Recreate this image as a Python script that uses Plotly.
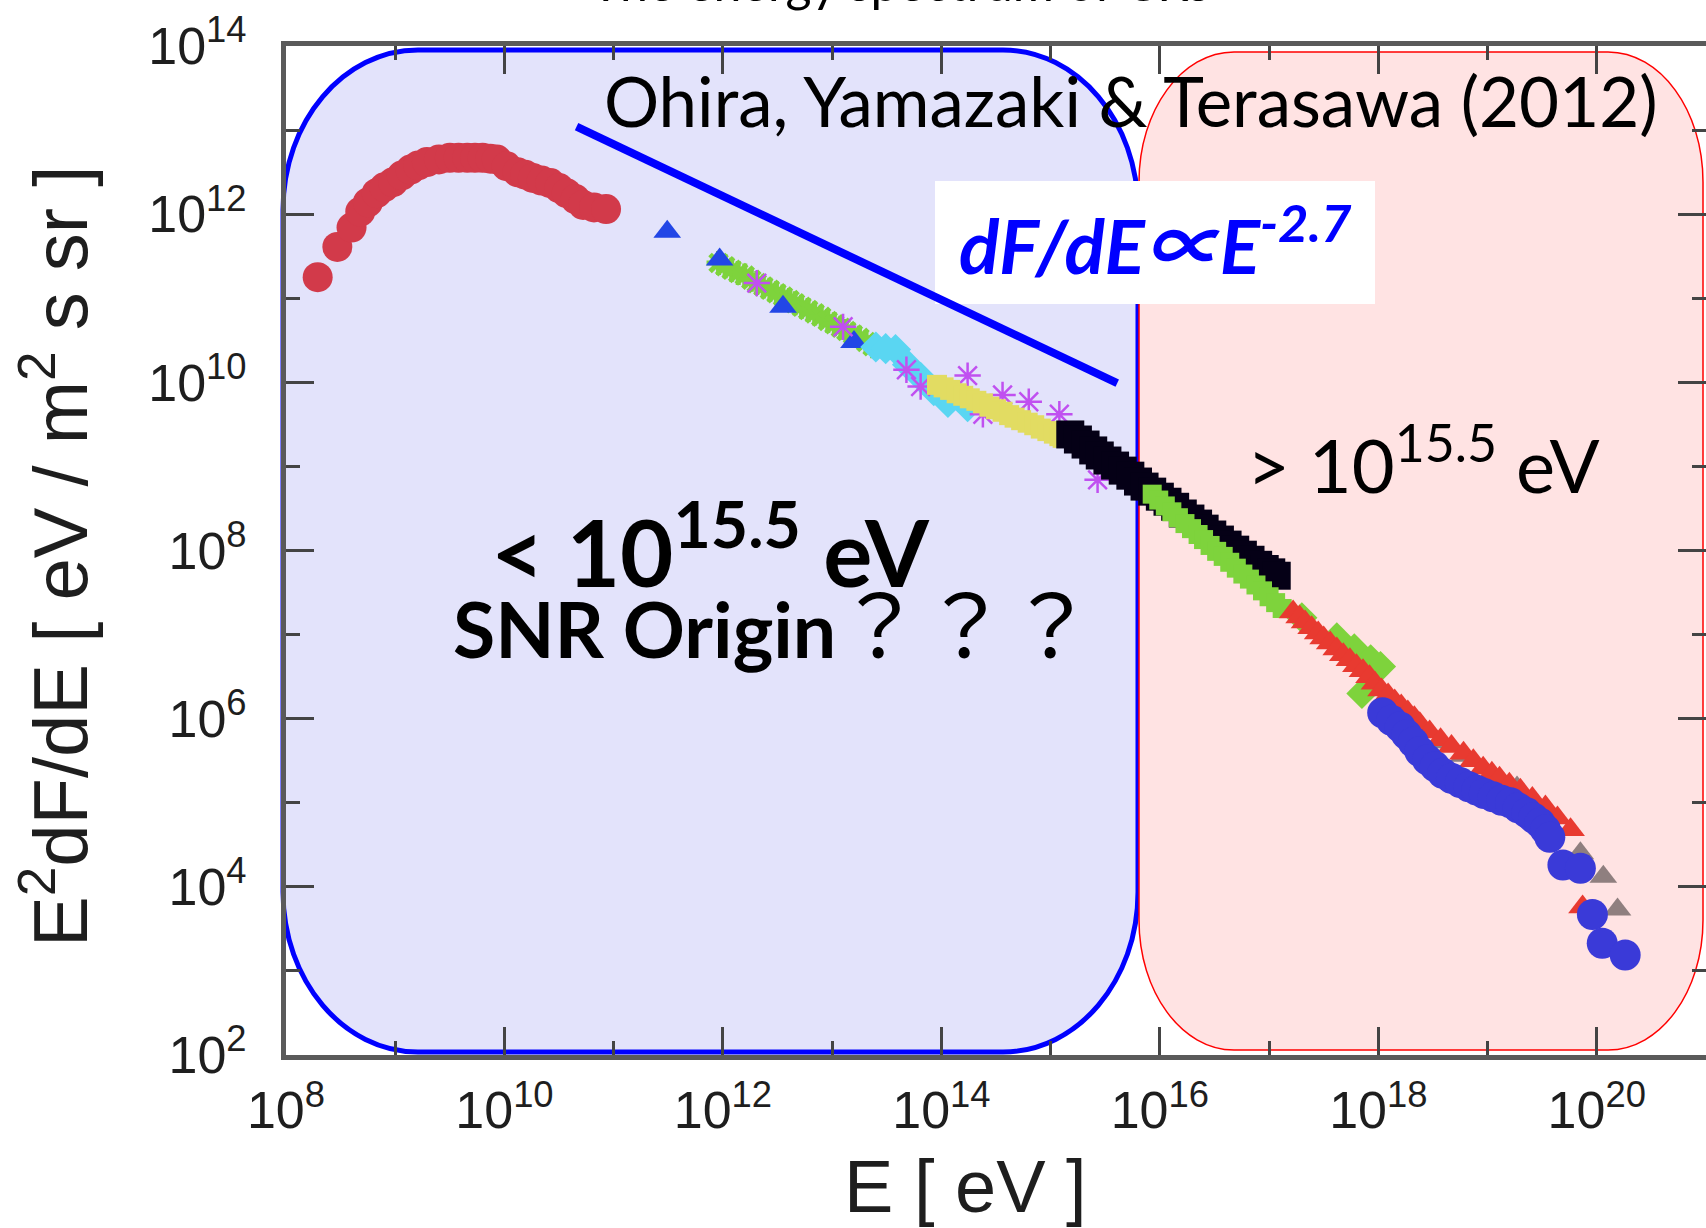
import numpy as np
import plotly.graph_objects as go

# ---------------------------------------------------------------------------
# Cosmic-ray energy spectrum, E^2 dF/dE versus E (values as log10)
# ---------------------------------------------------------------------------
red_circle_logE = [8.29, 8.47, 8.60, 8.68, 8.75, 8.83, 8.90, 8.98, 9.06, 9.14, 9.21, 9.29,
                   9.40, 9.50, 9.58, 9.66, 9.73, 9.80, 9.87, 9.93, 10.02, 10.12, 10.19,
                   10.26, 10.34, 10.42, 10.50, 10.57, 10.65, 10.72, 10.82, 10.93]
red_circle_logY = [11.25, 11.61, 11.84, 12.03, 12.14, 12.25, 12.32, 12.38, 12.46, 12.53,
                   12.58, 12.62, 12.65, 12.67, 12.67, 12.67, 12.67, 12.67, 12.66, 12.65,
                   12.57, 12.50, 12.47, 12.43, 12.40, 12.37, 12.31, 12.25, 12.18, 12.11,
                   12.08, 12.06]

blue_tri_logE = [11.49, 11.97, 12.55, 13.20]
blue_tri_logY = [11.79, 11.46, 10.90, 10.48]

green_star_logE = [11.96, 12.02, 12.08, 12.14, 12.20, 12.26, 12.31, 12.37, 12.43, 12.49,
                   12.55, 12.61, 12.66, 12.72, 12.78, 12.84, 12.90, 12.96, 13.02, 13.08,
                   13.13, 13.19, 13.25, 13.31, 13.37]
green_star_logY = [11.42, 11.38, 11.34, 11.30, 11.27, 11.22, 11.18, 11.14, 11.10, 11.06,
                   11.02, 10.98, 10.94, 10.90, 10.86, 10.82, 10.78, 10.73, 10.69, 10.65,
                   10.61, 10.57, 10.53, 10.48, 10.43]

cyan_diamond_logE = [13.40, 13.49, 13.58, 13.69, 13.81, 13.93, 14.06, 14.24]
cyan_diamond_logY = [10.42, 10.40, 10.39, 10.21, 10.06, 9.90, 9.76, 9.71]

purple_star_logE = [12.31, 13.10, 13.68, 13.81, 14.24, 14.38, 14.56, 14.80, 15.08, 15.43]
purple_star_logY = [11.18, 10.66, 10.15, 9.95, 10.08, 9.62, 9.85, 9.77, 9.62, 8.84]

yellow_logE = [13.96, 14.02, 14.08, 14.14, 14.20, 14.26, 14.32, 14.38, 14.44, 14.50, 14.56,
               14.62, 14.67, 14.73, 14.79, 14.85, 14.91, 14.97, 15.03, 15.08, 15.11]
yellow_logY = [9.97, 9.94, 9.91, 9.87, 9.84, 9.81, 9.78, 9.75, 9.71, 9.68, 9.65,
               9.61, 9.58, 9.55, 9.52, 9.49, 9.45, 9.42, 9.39, 9.36, 9.34]

black_logE = [15.18, 15.25, 15.32, 15.39, 15.45, 15.52, 15.59, 15.66, 15.73, 15.80, 15.86,
              15.93, 16.00, 16.07, 16.14, 16.21, 16.28, 16.35, 16.41, 16.48, 16.55, 16.62,
              16.69, 16.76, 16.83, 16.90, 16.96, 17.02, 17.07]
black_logY = [9.38, 9.32, 9.26, 9.19, 9.13, 9.07, 9.01, 8.95, 8.89, 8.82, 8.76,
              8.70, 8.64, 8.58, 8.52, 8.44, 8.38, 8.32, 8.26, 8.19, 8.13, 8.07,
              8.01, 7.95, 7.89, 7.83, 7.78, 7.74, 7.70]

green_band_logE = [15.93, 15.99, 16.05, 16.11, 16.17, 16.23, 16.29, 16.35, 16.40, 16.46,
                   16.52, 16.58, 16.64, 16.70, 16.76, 16.82, 16.88, 16.94, 17.00, 17.06, 17.12]
green_band_logY = [8.67, 8.60, 8.53, 8.46, 8.39, 8.32, 8.26, 8.19, 8.13, 8.06,
                   7.99, 7.93, 7.86, 7.79, 7.72, 7.66, 7.59, 7.52, 7.45, 7.38, 7.31]

red_tri_logE = [17.22, 17.28, 17.33, 17.39, 17.45, 17.50, 17.56, 17.62, 17.68, 17.74, 17.80,
                17.86, 17.92, 17.97, 18.03, 18.09, 18.15, 18.21, 18.27, 18.33, 18.38,
                18.47, 18.57, 18.67, 18.78, 18.87, 18.96, 19.04, 19.11, 19.20, 19.30,
                19.41, 19.53, 19.64, 19.76, 19.87]
red_tri_logY = [7.27, 7.21, 7.15, 7.08, 7.02, 6.96, 6.90, 6.83, 6.76, 6.70, 6.63,
                6.57, 6.50, 6.42, 6.34, 6.28, 6.21, 6.15, 6.08, 6.01, 5.94,
                5.84, 5.75, 5.67, 5.59, 5.50, 5.41, 5.35, 5.29, 5.22, 5.15,
                5.05, 4.95, 4.82, 4.68, 3.76]

green_diamond_logE = [17.30, 17.62, 17.78, 17.93, 18.02, 17.85]
green_diamond_logY = [7.20, 6.96, 6.83, 6.70, 6.62, 6.30]

gray_tri_logE = [18.57, 18.78, 19.27, 19.85, 20.06, 20.19]
gray_tri_logY = [5.72, 5.56, 5.18, 4.40, 4.12, 3.73]

blue_circle_logE = [18.04, 18.12, 18.20, 18.26, 18.32, 18.38, 18.45, 18.52, 18.59, 18.67,
                    18.75, 18.83, 18.90, 18.97, 19.05, 19.13, 19.21, 19.28, 19.36, 19.42,
                    19.48, 19.53, 19.57, 19.69, 19.85, 19.96, 20.05, 20.26]
blue_circle_logY = [6.07, 5.98, 5.90, 5.81, 5.72, 5.61, 5.51, 5.43, 5.35, 5.29,
                    5.24, 5.19, 5.15, 5.11, 5.07, 5.03, 5.00, 4.94, 4.88, 4.82,
                    4.76, 4.68, 4.59, 4.26, 4.22, 3.67, 3.33, 3.19]

# dF/dE ~ E^-2.7 guide line (end points)
guide_logE = [10.66, 15.61]
guide_logY = [13.04, 9.99]

x_tick_exp = [8, 10, 12, 14, 16, 18, 20]
y_tick_exp = [2, 4, 6, 8, 10, 12, 14]

# ---------------------------------------------------------------------------
W, H = 1706, 1228
L, R, T, B = 286, 0, 46, 173
PW, PH = W - L - R, H - T - B

SANS = "Liberation Sans, Arial, Helvetica"
CAL = "Lato, Carlito, Calibri, Noto Sans, Noto Sans CJK JP"
AXIS_TXT = "#1e1e1e"
TICK_COL = "#444444"


def px(x, y):
    """pixel position on the page -> paper coordinates"""
    return (x - L) / PW, (H - B - y) / PH


def rounded_rect(x0, y0, x1, y1, rx, ry):
    k = 0.5523

    def p(x, y):
        a, b = px(x, y)
        return f"{a:.5f},{b:.5f}"

    parts = [
        "M " + p(x0 + rx, y0),
        "L " + p(x1 - rx, y0),
        "C " + p(x1 - rx + k * rx, y0) + " " + p(x1, y0 + ry - k * ry) + " " + p(x1, y0 + ry),
        "L " + p(x1, y1 - ry),
        "C " + p(x1, y1 - ry + k * ry) + " " + p(x1 - rx + k * rx, y1) + " " + p(x1 - rx, y1),
        "L " + p(x0 + rx, y1),
        "C " + p(x0 + rx - k * rx, y1) + " " + p(x0, y1 - ry + k * ry) + " " + p(x0, y1 - ry),
        "L " + p(x0, y0 + ry),
        "C " + p(x0, y0 + ry - k * ry) + " " + p(x0 + rx - k * rx, y0) + " " + p(x0 + rx, y0),
        "Z",
    ]
    return " ".join(parts)


def E(v):
    return 10 ** np.asarray(v, dtype=float)


fig = go.Figure()


def add_markers(lx, ly, symbol, size, color, lw=0):
    mk = dict(symbol=symbol, size=size, color=color,
              line=dict(width=lw, color=color) if lw else dict(width=0))
    fig.add_trace(go.Scatter(x=E(lx), y=E(ly), mode="markers", marker=mk,
                             hoverinfo="skip", showlegend=False))


add_markers(red_circle_logE, red_circle_logY, "circle", 30, "#D23A4A")
add_markers(green_star_logE, green_star_logY, "asterisk-open", 20, "#7ED33C", lw=5)
add_markers(blue_tri_logE, blue_tri_logY, "triangle-up", 24, "#2246E6")
add_markers(cyan_diamond_logE, cyan_diamond_logY, "diamond", 24, "#5AD6F2")
add_markers(purple_star_logE, purple_star_logY, "asterisk-open", 22, "#C050F0", lw=2.5)
add_markers(yellow_logE, yellow_logY, "square", 20, "#E2DC62")
add_markers(black_logE, black_logY, "square", 28, "#050016")
add_markers(green_band_logE, green_band_logY, "square", 19, "#7ED33C")
add_markers(green_diamond_logE, green_diamond_logY, "diamond", 24, "#7ED33C")
add_markers(gray_tri_logE, gray_tri_logY, "triangle-up", 24, "#8F7F7F")
add_markers(red_tri_logE, red_tri_logY, "triangle-up", 25, "#E83A30")
add_markers(blue_circle_logE, blue_circle_logY, "circle", 31, "#3A3AD8")

fig.add_trace(go.Scatter(x=E(guide_logE), y=E(guide_logY), mode="lines",
                         line=dict(color="#0000FF", width=8),
                         hoverinfo="skip", showlegend=False))

shapes = [
    dict(type="path", xref="paper", yref="paper", layer="below",
         path=rounded_rect(283, 50, 1138, 1052, 135, 160),
         fillcolor="#E3E3FB", line=dict(color="#0000FF", width=5)),
    dict(type="path", xref="paper", yref="paper", layer="below",
         path=rounded_rect(1139, 52, 1703, 1050, 95, 130),
         fillcolor="#FFE3E3", line=dict(color="#FF0000", width=1.5)),
]
bx0, by0 = px(935, 304)
bx1, by1 = px(1375, 181)
shapes.append(dict(type="rect", xref="paper", yref="paper", layer="below",
                   x0=bx0, y0=by0, x1=bx1, y1=by1,
                   fillcolor="white", line=dict(width=0)))


def ann(text, x, y, size, family, color="black", xanchor="left", yanchor="middle", angle=0):
    a, b = px(x, y)
    return dict(text=text, x=a, y=b, xref="paper", yref="paper", showarrow=False,
                xanchor=xanchor, yanchor=yanchor, textangle=angle,
                font=dict(size=size, family=family, color=color))


annotations = [
    ann("The energy spectrum of CRs", 900, 14, 50, CAL, xanchor="center", yanchor="bottom"),
    ann("Ohira, Yamazaki &amp; Terasawa (2012)", 602, 100, 69, CAL),
    ann("<b><i>dF/dE∝E<sup>-2.7</sup></i></b>", 957, 240, 75, CAL, color="#0000FF"),
    ann("&gt; 10<sup>15.5</sup> eV", 1245, 460, 74, CAL),
    ann("<b>&lt; 10<sup>15.5</sup> eV</b>", 489, 545, 92, CAL),
    ann("<b>SNR Origin</b><span style='font-family:Noto Sans CJK JP;font-size:86px'>？？？</span>",
        451, 620, 77, CAL),
    ann("E<sup>2</sup>dF/dE [ eV / m<sup>2</sup> s sr ]", 55, 557, 76, SANS,
        color=AXIS_TXT, xanchor="center", yanchor="middle", angle=-90),
    ann("E [ eV ]", 965, 1186, 74, SANS, color=AXIS_TXT, xanchor="center"),
]

axis_common = dict(
    type="log", showgrid=False, zeroline=False,
    showline=True, linecolor="#5a5a5a", linewidth=5, mirror="ticks",
    ticks="inside", ticklen=28, tickwidth=2.5, tickcolor=TICK_COL,
    tickfont=dict(family=SANS, size=52, color=AXIS_TXT),
)

fig.update_layout(
    width=W, height=H, autosize=False,
    margin=dict(l=L, r=R, t=T, b=B, pad=0, autoexpand=False),
    paper_bgcolor="white", plot_bgcolor="white",
    shapes=shapes, annotations=annotations,
    xaxis=dict(axis_common, range=[8, 21],
               tickvals=[10.0 ** e for e in x_tick_exp],
               ticktext=[f"10<sup>{e}</sup>" for e in x_tick_exp],
               ticklabelstandoff=6,
               minor=dict(tickvals=[10.0 ** e for e in range(9, 22, 2)], ticks="inside",
                          ticklen=14, tickwidth=2.5, tickcolor=TICK_COL, showgrid=False)),
    yaxis=dict(axis_common, range=[2, 14],
               tickvals=[10.0 ** e for e in y_tick_exp],
               ticktext=[f"10<sup>{e}</sup>" for e in y_tick_exp],
               ticklabelstandoff=24,
               minor=dict(tickvals=[10.0 ** e for e in range(3, 14, 2)], ticks="inside",
                          ticklen=14, tickwidth=2.5, tickcolor=TICK_COL, showgrid=False)),
)

fig.write_html("out.html")
